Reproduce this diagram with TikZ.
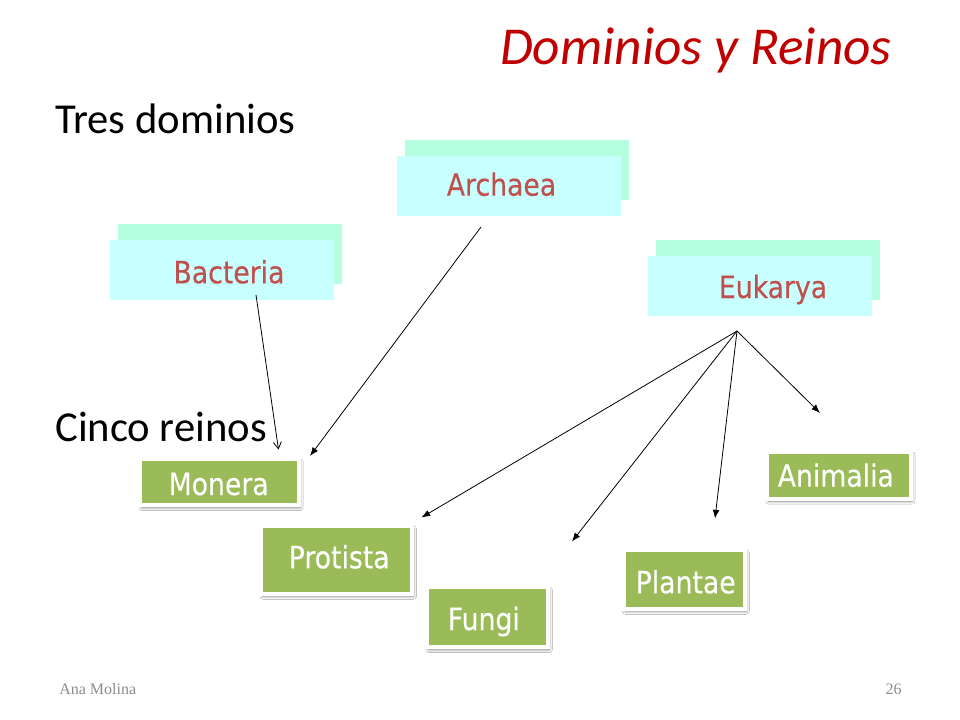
\documentclass[tikz,border=0pt]{standalone}
\usepackage{fontspec}
\setmainfont{Carlito}
\newfontfamily\boxfont[FakeStretch=0.87,FakeBold=0.3]{DejaVu Sans}
\newfontfamily\footfont{Liberation Serif}
\usetikzlibrary{arrows.meta,shadows.blur}
\definecolor{titlered}{HTML}{C00000}
\definecolor{boxred}{HTML}{C0504D}
\definecolor{mint}{HTML}{B3FFE0}
\definecolor{lcyan}{HTML}{C8FFFF}
\definecolor{kgreen}{HTML}{9BBB59}
\definecolor{footgray}{HTML}{8C8C8C}
\tikzset{
  backbox/.style={fill=mint, draw=none, inner sep=0, anchor=north west, minimum width=168pt, minimum height=45pt},
  frontbox/.style={fill=lcyan, draw=none, inner sep=0, anchor=north west, minimum width=168pt, minimum height=45pt},
  gbox/.style={fill=kgreen, draw=white, line width=3pt, inner sep=0,
    blur shadow={shadow xshift=1.2pt, shadow yshift=-2pt, shadow blur radius=2.2pt, shadow opacity=50}},
  redtext/.style={anchor=base, inner sep=0, text=boxred, font=\fontsize{23}{27}\boxfont},
  whitetext/.style={anchor=base, inner sep=0, text=white, font=\fontsize{23}{27}\boxfont},
  bigtext/.style={anchor=base west, inner sep=0, font=\fontsize{32}{38}\selectfont},
  openarrow/.style={line width=0.6pt, -{Straight Barb[length=5pt,width=6pt]}},
  fillarrow/.style={line width=0.6pt, -{Latex[length=6.5pt,width=5pt]}}
}
\begin{document}
\begin{tikzpicture}[x=0.75pt,y=-0.75pt]
\useasboundingbox[fill=white] (0,0) rectangle (960,720);

% title and headings
\node[anchor=base east, inner sep=0, text=titlered, font=\fontsize{40}{48}\selectfont\itshape] (title) at (892,65) {Dominios y Reinos};
\node[bigtext] (tres) at (55,134) {Tres dominios};
\node[bigtext] (cinco) at (55,441.7) {Cinco reinos};

% domain boxes
\node[backbox] (archB) at (405,140) {};
\node[frontbox] (archF) at (397,156) {};
\node[redtext] (archT) at (501.5,195.7) {Archaea};

\node[backbox] (bactB) at (118,224) {};
\node[frontbox] (bactF) at (110,240) {};
\node[redtext] (bactT) at (229,283.3) {Bacteria};

\node[backbox] (eukB) at (656,240) {};
\node[frontbox] (eukF) at (648,256) {};
\node[redtext] (eukT) at (773,298) {Eukarya};

% kingdom boxes
\node[gbox, minimum width=118.8pt, minimum height=34.5pt] (moneraB) at (219.5,482) {};
\node[whitetext] (monera) at (218.7,495) {Monera};

\node[gbox, minimum width=113pt, minimum height=50.5pt] (protB) at (336.7,560) {};
\node[whitetext] (prot) at (339.2,568.3) {Protista};

\node[gbox, minimum width=90.5pt, minimum height=45pt] (fungiB) at (487.4,617) {};
\node[whitetext] (fungi) at (483.8,630) {Fungi};

\node[gbox, minimum width=90.75pt, minimum height=44.25pt] (plantB) at (684.2,579.2) {};
\node[whitetext] (plant) at (685.7,593.3) {Plantae};

\node[gbox, minimum width=107.6pt, minimum height=35pt] (animB) at (838.8,475.3) {};
\node[whitetext] (anim) at (835.8,486.7) {Animalia};

% connectors
\coordinate (bS) at (256,295);
\coordinate (bE) at (278.5,449.5);
\coordinate (aS) at (481,227);
\coordinate (aE) at (310,456);
\coordinate (eS) at (737,331);
\coordinate (e1) at (421.5,517.5);
\coordinate (e2) at (572,541.5);
\coordinate (e3) at (715,518.5);
\coordinate (e4) at (820,413);

\draw[openarrow] (bS) -- (bE);
\draw[fillarrow] (aS) -- (aE);
\draw[fillarrow] (eS) -- (e1);
\draw[fillarrow] (eS) -- (e2);
\draw[fillarrow] (eS) -- (e3);
\draw[fillarrow] (eS) -- (e4);

% footer
\node[anchor=base west, inner sep=0, text=footgray, font=\fontsize{12}{14}\footfont] (author) at (59,694) {Ana Molina};
\node[anchor=base east, inner sep=0, text=footgray, font=\fontsize{12}{14}\footfont] (page) at (902,694) {26};
\end{tikzpicture}
\end{document}
